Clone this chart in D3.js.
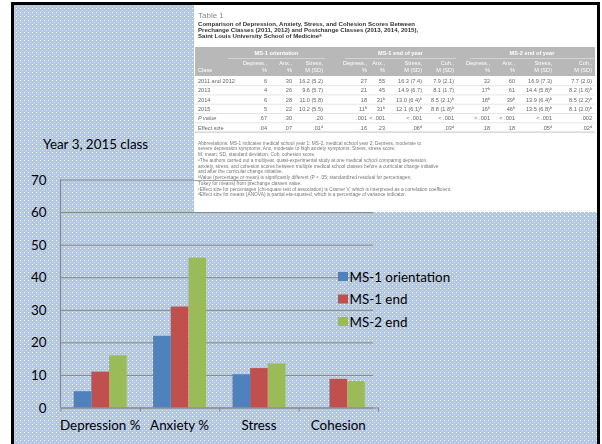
<!DOCTYPE html>
<html>
<head>
<meta charset="utf-8">
<script src="https://cdn.jsdelivr.net/npm/d3@7/dist/d3.min.js"></script>
<style>
  html, body { margin: 0; padding: 0; background: #fff; }
  svg { display: block; }
</style>
</head>
<body>
<svg id="slide" width="602" height="444"></svg>
<script>
// ---- chart data ----
const categories = ["Depression %", "Anxiety %", "Stress", "Cohesion"];
const seriesNames = ["MS-1 orientation", "MS-1 end", "MS-2 end"];
const ms1Orientation = [5, 22, 10.2, null];
const ms1End = [11, 31, 12.1, 8.8];
const ms2End = [16, 46, 13.5, 8.1];
const yTicks = [0, 10, 20, 30, 40, 50, 60, 70];
const seriesColors = ["#4F81BD", "#C0504D", "#9BBB59"];

// ---- table data ----
const tableTitle = "Table 1";
const tableHeading = [
  "Comparison of Depression, Anxiety, Stress, and Cohesion Scores Between",
  "Prechange Classes (2011, 2012) and Postchange Classes (2013, 2014, 2015),",
  "Saint Louis University School of Medicine\u1D43"
];
const tableGroups = ["MS-1 orientation", "MS-1 end of year", "MS-2 end of year"];
const tableSubHead1 = ["Depress.,", "Anx.,", "Stress,", "Depress.,", "Anx.,", "Stress,", "Coh.,", "Depress.,", "Anx.,", "Stress,", "Coh.,"];
const tableSubHead2 = ["%", "%", "M (SD)", "%", "%", "M (SD)", "M (SD)", "%", "%", "M (SD)", "M (SD)"];
const tableClasses = ["2011 and 2012", "2013", "2014", "2015", "P value", "Effect size"];
const tableCells = [
  ["6", "30", "16.2 (5.2)", "27", "55", "16.3 (7.4)", "7.9 (2.1)", "32", "60", "16.9 (7.3)", "7.7 (2.0)"],
  ["4", "26", "9.6 (5.7)", "21", "45", "14.9 (6.7)", "8.1 (1.7)", "17\u1D47", "61", "14.4 (5.8)\u1D47", "8.2 (1.6)\u1D47"],
  ["6", "28", "11.0 (5.8)", "18", "31\u1D47", "13.0 (6.4)\u1D47", "8.5 (2.1)\u1D47", "18\u1D47", "39\u1D47", "13.9 (6.4)\u1D47", "8.5 (2.2)\u1D47"],
  ["5", "22", "10.2 (5.5)", "11\u1D47", "31\u1D47", "12.1 (6.1)\u1D47", "8.8 (1.8)\u1D47", "16\u1D47", "46\u1D47", "13.5 (6.8)\u1D47", "8.1 (2.0)\u1D47"],
  [".67", ".30", ".20", ".001", "< .001", "< .001", "< .001", "< .001", "< .001", "< .001", ".002"],
  [".04", ".07", ".01\u1D48", ".16", ".23", ".06\u1D48", ".03\u1D48", ".18", ".18", ".05\u1D48", ".02\u1D48"]
];
const tableNotes = [
  "Abbreviations: MS-1 indicates medical school year 1; MS-2, medical school year 2; Depress, moderate to",
  "severe depression symptoms; Anx, moderate to high anxiety symptoms; Stress, stress score;",
  "M, mean; SD, standard deviation; Coh, cohesion score.",
  "\u1D43The authors carried out a multiyear, quasi-experimental study at one medical school comparing depression,",
  "anxiety, stress, and cohesion scores between multiple medical school classes before a curricular change initiative",
  "and after the curricular change initiative.",
  "\u1D47Value (percentage or mean) is significantly different (P < .05; standardized residual for percentages;",
  "Tukey for means) from prechange classes value.",
  "\u1D9CEffect size for percentages (chi-square test of association) is Cramer V, which is interpreted as a correlation coefficient.",
  "\u1D48Effect size for means (ANOVA) is partial eta-squared, which is a percentage of variance indicator."
];

const svg = d3.select("#slide");
const defs = svg.append("defs");

// dotted slide texture
const pat = defs.append("pattern").attr("id", "dots")
  .attr("width", 4).attr("height", 4).attr("patternUnits", "userSpaceOnUse");
pat.append("rect").attr("width", 4).attr("height", 4).attr("fill", "#b3c7e3");
pat.append("rect").attr("x", 0).attr("y", 0).attr("width", 1).attr("height", 1).attr("fill", "#ffffff").attr("opacity", 0.9);
pat.append("rect").attr("x", 2).attr("y", 2).attr("width", 1).attr("height", 1).attr("fill", "#d6e1f1");

defs.append("filter").attr("id", "soft")
  .append("feGaussianBlur").attr("stdDeviation", 0.4);

// slide background and frame
svg.append("rect").attr("x", 14).attr("y", 5).attr("width", 583).attr("height", 439).attr("fill", "url(#dots)");
svg.append("rect").attr("x", 11).attr("y", 2).attr("width", 589).attr("height", 3).attr("fill", "#000");
svg.append("rect").attr("x", 11).attr("y", 2).attr("width", 3).attr("height", 442).attr("fill", "#000");
svg.append("rect").attr("x", 597).attr("y", 2).attr("width", 3).attr("height", 442).attr("fill", "#000");

const font = "Lato, 'Open Sans', sans-serif";
const fs = 13.4;

// slide caption
svg.append("text").attr("x", 43).attr("y", 148.5)
  .attr("font-family", font).attr("font-size", fs).attr("fill", "#000")
  .text("Year 3, 2015 class");

// ---- bar chart ----
const plot = { left: 60.5, right: 378, top: 179.5, bottom: 407.5 };
const x = d3.scaleBand().domain(categories).range([plot.left, plot.right]).paddingInner(0).paddingOuter(0);
const xs = d3.scaleBand().domain(seriesNames).range([0, x.bandwidth()]).paddingInner(0).paddingOuter(0.75);
const y = d3.scaleLinear().domain([0, 70]).range([plot.bottom, plot.top]);
const xEdges = d3.scaleLinear().domain([0, categories.length]).range([plot.left, plot.right]);

const chart = svg.append("g");
const gridColor = "#868686";

// horizontal gridlines + left ticks
const yAxis = chart.append("g").attr("transform", `translate(${plot.left},0)`)
  .call(d3.axisLeft(y).tickValues(yTicks).tickSizeInner(-(plot.right - plot.left)).tickSizeOuter(0).tickFormat(""));
yAxis.select(".domain").remove();
yAxis.selectAll(".tick line").attr("stroke", gridColor).attr("x1", 5).attr("stroke-width", 1)
  .attr("transform", "translate(-5,0)");

// y axis line and labels
chart.append("line").attr("x1", plot.left).attr("x2", plot.left).attr("y1", plot.top).attr("y2", plot.bottom)
  .attr("stroke", gridColor);
const yLab = chart.append("g").attr("transform", `translate(${plot.left - 14},0)`)
  .call(d3.axisLeft(y).tickValues(yTicks).tickSize(0).tickPadding(0));
yLab.select(".domain").remove();
yLab.selectAll("text").attr("font-family", font).attr("font-size", fs).attr("fill", "#000").attr("dy", "0.34em");

// bars
const seriesData = [ms1Orientation, ms1End, ms2End];
seriesData.forEach((vals, si) => {
  chart.append("g").selectAll("rect")
    .data(categories.map((c, i) => ({ c, v: vals[i] })).filter(d => d.v != null))
    .join("rect")
    .attr("x", d => x(d.c) + xs(seriesNames[si]))
    .attr("width", xs.bandwidth())
    .attr("y", d => y(d.v))
    .attr("height", d => y(0) - y(d.v))
    .attr("fill", seriesColors[si]);
});

// x axis: tick marks between categories, labels centered
const xTickAxis = chart.append("g").attr("transform", `translate(0,${plot.bottom})`)
  .call(d3.axisBottom(xEdges).tickValues(d3.range(categories.length + 1)).tickSize(4).tickSizeOuter(0).tickFormat(""));
xTickAxis.selectAll("path, line").attr("stroke", gridColor);
const xLab = chart.append("g").attr("transform", `translate(0,${plot.bottom})`)
  .call(d3.axisBottom(x).tickSize(0).tickPadding(0));
xLab.select(".domain").remove();
xLab.selectAll("text").attr("font-family", font).attr("font-size", fs).attr("fill", "#000")
  .attr("y", 22).attr("dy", 0);

// legend
const legend = chart.append("g").attr("transform", "translate(338,272)");
seriesNames.forEach((name, i) => {
  const row = legend.append("g").attr("transform", `translate(0,${i * 22.5})`);
  row.append("rect").attr("width", 10).attr("height", 9).attr("fill", seriesColors[i]);
  row.append("text").attr("x", 11.5).attr("y", 9.5)
    .attr("font-family", font).attr("font-size", fs).attr("fill", "#000").text(name);
});

// ---- reproduced journal table ----
const tbl = svg.append("g");
tbl.append("rect").attr("x", 194).attr("y", 5).attr("width", 403).attr("height", 207).attr("fill", "#fff");
const tt = tbl.append("g").attr("filter", "url(#soft)");
const tFont = "'Liberation Sans', Arial, sans-serif";

tt.append("text").attr("x", 198).attr("y", 18).attr("font-family", tFont).attr("font-size", 8)
  .attr("fill", "#8a8a8a").text(tableTitle);
tableHeading.forEach((line, i) => {
  tt.append("text").attr("x", 198).attr("y", 26 + i * 5.8).attr("font-family", tFont)
    .attr("font-size", 6.1).attr("font-weight", "bold").attr("fill", "#333").text(line);
});

// header band
tt.append("rect").attr("x", 195).attr("y", 47).attr("width", 400).attr("height", 29).attr("fill", "#b8b8b8");
const colRight = [267, 292, 323, 367, 385, 422, 454, 490, 515, 552, 592];
const groupSpan = [[228, 325], [345, 456], [470, 594]];
tableGroups.forEach((g, i) => {
  const cx = (groupSpan[i][0] + groupSpan[i][1]) / 2;
  tt.append("text").attr("x", cx).attr("y", 55).attr("text-anchor", "middle")
    .attr("font-family", tFont).attr("font-size", 5.6).attr("font-weight", "bold").attr("fill", "#fff").text(g);
  tt.append("line").attr("x1", groupSpan[i][0]).attr("x2", groupSpan[i][1]).attr("y1", 58.5).attr("y2", 58.5)
    .attr("stroke", "#e6e6e6").attr("stroke-width", 0.6);
});
tt.append("text").attr("x", 198).attr("y", 72).attr("font-family", tFont).attr("font-size", 5.6)
  .attr("fill", "#fff").text("Class");
tableSubHead1.forEach((h, i) => {
  tt.append("text").attr("x", colRight[i]).attr("y", 65).attr("text-anchor", "end")
    .attr("font-family", tFont).attr("font-size", 5.6).attr("fill", "#fff").text(h);
  tt.append("text").attr("x", colRight[i]).attr("y", 72).attr("text-anchor", "end")
    .attr("font-family", tFont).attr("font-size", 5.6).attr("fill", "#fff").text(tableSubHead2[i]);
});

// body rows
tableClasses.forEach((cls, r) => {
  const cy = 81 + r * 9.3;
  tt.append("text").attr("x", 198).attr("y", cy + 2).attr("font-family", tFont).attr("font-size", 5.6)
    .attr("font-style", r === 4 ? "italic" : "normal")
    .attr("fill", "#666").text(cls);
  tableCells[r].forEach((v, c) => {
    tt.append("text").attr("x", colRight[c]).attr("y", cy + 2).attr("text-anchor", "end")
      .attr("font-family", tFont).attr("font-size", 5.6).attr("fill", "#666").text(v);
  });
  tt.append("line").attr("x1", 195).attr("x2", 595).attr("y1", cy + 4.6).attr("y2", cy + 4.6)
    .attr("stroke", r === tableClasses.length - 1 ? "#9a9a9a" : "#d2d2d2").attr("stroke-width", 0.6);
});

// footnotes
tableNotes.forEach((line, i) => {
  tt.append("text").attr("x", 198).attr("y", 144.5 + i * 5.75).attr("font-family", tFont)
    .attr("font-size", 4.8).attr("fill", "#777").text(line);
});
tt.append("line").attr("x1", 194).attr("x2", 252).attr("y1", 180.5).attr("y2", 180.5)
  .attr("stroke", "#8f8f8f").attr("stroke-width", 0.8);
</script>
</body>
</html>
